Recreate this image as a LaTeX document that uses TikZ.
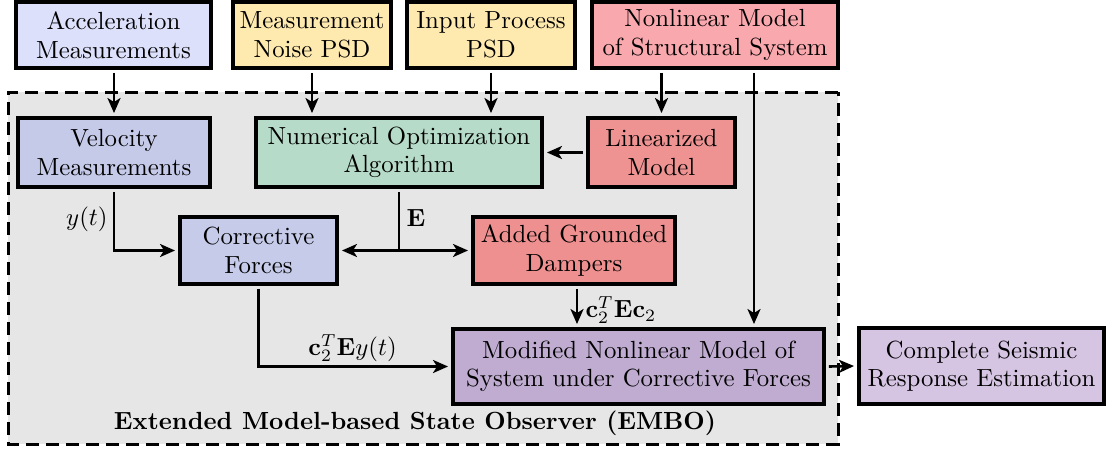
\documentclass[tikz,border=0pt]{standalone}
\usetikzlibrary{arrows.meta,calc}
\definecolor{cAccel}{RGB}{220,224,251}
\definecolor{cYel}{RGB}{254,233,175}
\definecolor{cNonlin}{RGB}{249,168,174}
\definecolor{cVel}{RGB}{197,202,233}
\definecolor{cNum}{RGB}{182,219,200}
\definecolor{cLin}{RGB}{238,146,146}
\definecolor{cCorr}{RGB}{198,203,234}
\definecolor{cAdd}{RGB}{239,144,144}
\definecolor{cMod}{RGB}{191,172,208}
\definecolor{cComp}{RGB}{214,196,227}
\definecolor{cBg}{RGB}{230,230,230}
\def\fk{2.48}
\begin{document}
\begin{tikzpicture}[x=1pt,y=-1pt,
  every node/.style={scale=\fk, font=\fontsize{10}{11.5}\selectfont},
  blk/.style={draw=black, line width=4pt, align=center, inner sep=0pt},
  arr/.style={line width=2.6pt, -{Stealth[length=15pt,width=13pt,inset=4pt]}},
  ln/.style={line width=2.6pt},
  lbl/.style={inner sep=0pt}]
\useasboundingbox (0,0) rectangle (1106,453);
% background region
\node[draw=black, fill=cBg, line width=3pt, dash pattern=on 13pt off 7pt,
      minimum width={830pt/\fk}, minimum height={352pt/\fk}, inner sep=0pt] (embo) at (423,268) {};
\node[lbl, font=\fontsize{10}{11.5}\selectfont\bfseries] (embolbl) at (415,423) {Extended Model-based State Observer (EMBO)};
% top row
\node[blk, fill=cAccel, minimum width={195pt/\fk}, minimum height={66pt/\fk}] (accel) at (113.5,35) {Acceleration\\Measurements};
\node[blk, fill=cYel, minimum width={158pt/\fk}, minimum height={66pt/\fk}] (noise) at (312,35) {Measurement\\Noise PSD};
\node[blk, fill=cYel, minimum width={168pt/\fk}, minimum height={66pt/\fk}] (input) at (491,35) {Input Process\\PSD};
\node[blk, fill=cNonlin, minimum width={246pt/\fk}, minimum height={66pt/\fk}] (nonlin) at (715,35) {Nonlinear Model\\of Structural System};
% second row
\node[blk, fill=cVel, minimum width={192pt/\fk}, minimum height={69pt/\fk}] (vel) at (114,152.5) {Velocity\\Measurements};
\node[blk, fill=cNum, minimum width={286pt/\fk}, minimum height={69pt/\fk}] (num) at (399,152.5) {Numerical Optimization\\Algorithm};
\node[blk, fill=cLin, minimum width={147pt/\fk}, minimum height={69pt/\fk}] (lin) at (661.5,152.5) {Linearized\\Model};
% third row
\node[blk, fill=cCorr, minimum width={157pt/\fk}, minimum height={67pt/\fk}] (corr) at (258.5,250.5) {Corrective\\Forces};
\node[blk, fill=cAdd, minimum width={202pt/\fk}, minimum height={67pt/\fk}] (added) at (574,250.5) {Added Grounded\\Dampers};
% bottom row
\node[blk, fill=cMod, minimum width={371pt/\fk}, minimum height={75pt/\fk}] (mod) at (638.5,366.5) {Modified Nonlinear Model of\\System under Corrective Forces};
\node[blk, fill=cComp, minimum width={245pt/\fk}, minimum height={76pt/\fk}] (comp) at (981.5,366) {Complete Seismic\\Response Estimation};
% connectors
\coordinate (vx) at (754,0);
\coordinate (ax) at (577,0);
\draw[arr] (accel.south -| vel.north) -- (vel.north);
\draw[arr] (noise.south) -- (noise.south |- num.north);
\draw[arr] (input.south) -- (input.south |- num.north);
\draw[arr] (nonlin.south -| lin.north) -- (lin.north);
\draw[arr] (nonlin.south -| vx) -- (mod.north -| vx);
\draw[arr] (lin.west) -- (lin.west -| num.east);
\coordinate (j) at (num.south |- corr.east);
\draw[ln] (num.south) -- (j);
\draw[arr] (j) -- (corr.east);
\draw[arr] (j) -- (added.west);
\draw[arr] (vel.south) |- (corr.west);
\draw[arr] (corr.south) |- (mod.west);
\draw[arr] (added.south -| ax) -- (mod.north -| ax);
\draw[arr] (mod.east) -- (comp.west);
% labels
\node[lbl, anchor=east] (ylbl) at (108,219) {$y(t)$};
\node[lbl, anchor=west] (elbl) at (406,218) {$\mathbf{E}$};
\node[lbl] (l1) at (352.5,348) {$\mathbf{c}_2^T\mathbf{E}y(t)$};
\node[lbl, anchor=west] (l2) at (585,310) {$\mathbf{c}_2^T\mathbf{E}\mathbf{c}_2$};
\end{tikzpicture}
\end{document}
